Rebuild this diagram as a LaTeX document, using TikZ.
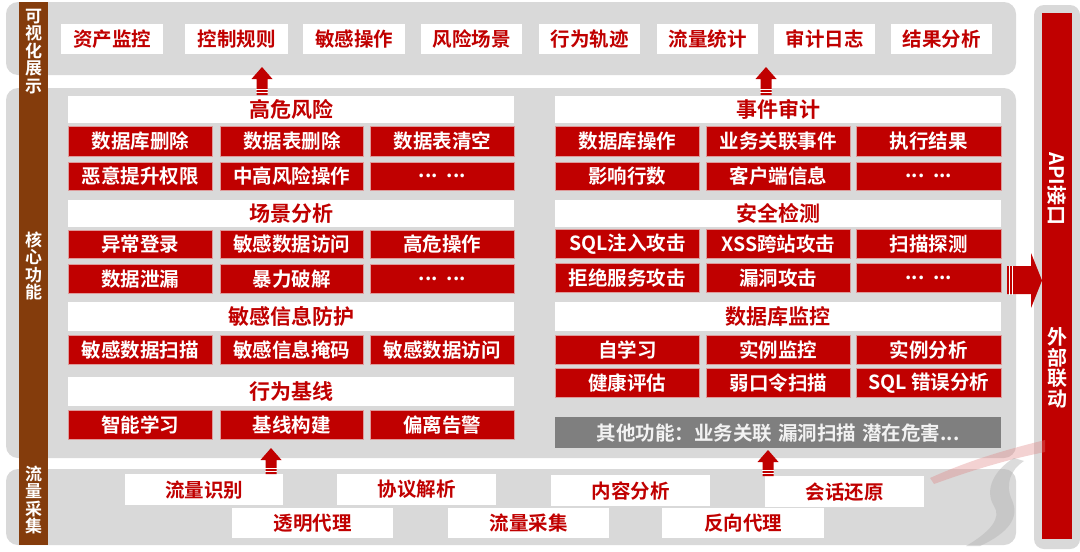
\documentclass[tikz,border=0pt]{standalone}
\usepackage{fontspec}
\setmainfont{Noto Sans CJK SC}[BoldFont={Noto Sans CJK SC Bold}]
\definecolor{myred}{HTML}{C00000}
\definecolor{panelgray}{HTML}{D9D9D9}
\definecolor{mybrown}{HTML}{843C0C}
\definecolor{rbord}{HTML}{DE9A9A}
\definecolor{boxgray}{HTML}{7F7F7F}
\newcommand\mkbox[7]{\node[#2, minimum width=#5pt, minimum height=#6pt, anchor=north west] (#1) at (#3,#4) {#7};}
\newcommand\blockup[3]{%
  \fill[myred] (#1-5.5,#3) -- (#1-5.5,#2+12) -- (#1-10.5,#2+12) -- (#1,#2) -- (#1+10.5,#2+12) -- (#1+5.5,#2+12) -- (#1+5.5,#3) -- cycle;
  \draw[white,line width=0.8pt] (#1-6,#3-2.5) -- (#1+6,#3-2.5) (#1-6,#3-5.5) -- (#1+6,#3-5.5);
}
\tikzset{
  panel/.style={fill=panelgray, draw=none, rounded corners=12pt},
  wbox/.style={fill=white, draw=none, inner sep=0pt, text=myred, font=\bfseries\fontsize{19.5}{20}\selectfont},
  hbox/.style={fill=white, draw=none, inner sep=0pt, text=myred, font=\bfseries\fontsize{21}{22}\selectfont},
  rbox/.style={fill=myred, draw=rbord, line width=0.6pt, inner sep=0pt, text=white, font=\bfseries\fontsize{19.5}{20}\selectfont},
  gbox/.style={fill=boxgray, draw=none, inner sep=0pt, text=white!95!black, font=\bfseries\fontsize{19.5}{20}\selectfont},
  sidelabel/.style={text=white, inner sep=0pt, align=center, font=\bfseries\fontsize{17}{17.6}\selectfont},
  barlabel/.style={text=white, inner sep=0pt, align=center, font=\bfseries\fontsize{20}{21}\selectfont}
}
\begin{document}
\begin{tikzpicture}[x=1pt,y=-1pt]
\useasboundingbox[fill=white] (0,0) rectangle (1080,552);
% panels
\fill[panel] (6,2) rectangle (1016,75);
\fill[panel] (6,88) rectangle (1016,458);
\fill[panel] (6,469) rectangle (1016,545);
\fill[panel, rounded corners=10pt] (1034,5) rectangle (1080,549);
\fill[myred] (1042,13) rectangle (1072,539);
% brown side bar
\fill[mybrown] (19,2) rectangle (48,545);
\node[sidelabel] (sl1) at (33.5,51.5) {可\\视\\化\\展\\示};
\node[sidelabel] (sl2) at (33.5,266) {核\\心\\功\\能};
\node[sidelabel] (sl3) at (33.5,500) {流\\量\\采\\集};
% watermark
\fill[myred!50, opacity=0.35] (930,478) .. controls (970,460) and (1005,450) .. (1045,440) -- (1045,452) .. controls (1005,460) and (970,471) .. (934,484) -- cycle;
\fill[black!30, opacity=0.45] (1014,458) .. controls (994,470) and (984,490) .. (994,506) .. controls (1002,518) and (990,532) .. (966,546) -- (980,546) .. controls (1008,533) and (1020,518) .. (1012,500) .. controls (1005,485) and (1010,470) .. (1024,461) -- cycle;
% top row
\mkbox{t1}{wbox}{61}{24}{102}{30}{资产监控}
\mkbox{t2}{wbox}{185}{24}{103}{30}{控制规则}
\mkbox{t3}{wbox}{303}{24}{102}{30}{敏感操作}
\mkbox{t4}{wbox}{421}{24}{101}{30}{风险场景}
\mkbox{t5}{wbox}{539}{24}{101}{30}{行为轨迹}
\mkbox{t6}{wbox}{657}{24}{101}{30}{流量统计}
\mkbox{t7}{wbox}{774}{24}{101}{30}{审计日志}
\mkbox{t8}{wbox}{891}{24}{101}{30}{结果分析}
% left column
\mkbox{lh1}{hbox}{68}{96}{446}{27}{高危风险}
\mkbox{l11}{rbox}{68}{126}{144}{30}{数据库删除}
\mkbox{l12}{rbox}{220}{126}{143}{30}{数据表删除}
\mkbox{l13}{rbox}{370}{126}{144}{30}{数据表清空}
\mkbox{l14}{rbox}{68}{162}{144}{28}{恶意提升权限}
\mkbox{l15}{rbox}{220}{162}{143}{28}{中高风险操作}
\mkbox{l16}{rbox}{370}{162}{144}{28}{...\ \ ...}
\mkbox{lh2}{hbox}{68}{200}{446}{27}{场景分析}
\mkbox{l21}{rbox}{68}{230}{144}{28}{异常登录}
\mkbox{l22}{rbox}{220}{230}{143}{28}{敏感数据访问}
\mkbox{l23}{rbox}{370}{230}{144}{28}{高危操作}
\mkbox{l24}{rbox}{68}{264}{144}{29}{数据泄漏}
\mkbox{l25}{rbox}{220}{264}{143}{29}{暴力破解}
\mkbox{l26}{rbox}{370}{264}{144}{29}{...\ \ ...}
\mkbox{lh3}{hbox}{68}{302}{446}{29}{敏感信息防护}
\mkbox{l31}{rbox}{68}{335}{144}{29}{敏感数据扫描}
\mkbox{l32}{rbox}{220}{335}{143}{29}{敏感信息掩码}
\mkbox{l33}{rbox}{370}{335}{144}{29}{敏感数据访问}
\mkbox{lh4}{hbox}{68}{377}{446}{29}{行为基线}
\mkbox{l41}{rbox}{68}{410}{144}{29}{智能学习}
\mkbox{l42}{rbox}{220}{410}{143}{29}{基线构建}
\mkbox{l43}{rbox}{370}{410}{144}{29}{偏离告警}
% right column
\mkbox{rh1}{hbox}{555}{96}{446}{27}{事件审计}
\mkbox{r11}{rbox}{555}{126}{144}{30}{数据库操作}
\mkbox{r12}{rbox}{706}{126}{144}{30}{业务关联事件}
\mkbox{r13}{rbox}{856}{126}{145}{30}{执行结果}
\mkbox{r14}{rbox}{555}{162}{144}{28}{影响行数}
\mkbox{r15}{rbox}{706}{162}{144}{28}{客户端信息}
\mkbox{r16}{rbox}{856}{162}{145}{28}{...\ \ ...}
\mkbox{rh2}{hbox}{555}{200}{446}{27}{安全检测}
\mkbox{r21}{rbox}{555}{229}{144}{29}{SQL注入攻击}
\mkbox{r22}{rbox}{706}{229}{144}{29}{XSS跨站攻击}
\mkbox{r23}{rbox}{856}{229}{145}{29}{扫描探测}
\mkbox{r24}{rbox}{555}{263}{144}{29}{拒绝服务攻击}
\mkbox{r25}{rbox}{706}{263}{144}{29}{漏洞攻击}
\mkbox{r26}{rbox}{856}{263}{145}{29}{...\ \ ...}
\mkbox{rh3}{hbox}{555}{302}{446}{29}{数据库监控}
\mkbox{r31}{rbox}{555}{335}{144}{29}{自学习}
\mkbox{r32}{rbox}{706}{335}{144}{29}{实例监控}
\mkbox{r33}{rbox}{856}{335}{145}{29}{实例分析}
\mkbox{r34}{rbox}{555}{368}{144}{29}{健康评估}
\mkbox{r35}{rbox}{706}{368}{144}{29}{弱口令扫描}
\mkbox{r36}{rbox}{856}{368}{145}{29}{SQL 错误分析}
\mkbox{rg}{gbox}{555}{417}{446}{31}{其他功能：业务关联\hspace{6pt}漏洞扫描\hspace{6pt}潜在危害...}
% bottom rows
\mkbox{b1}{wbox}{125}{474}{158}{31}{流量识别}
\mkbox{b2}{wbox}{337}{474}{159}{31}{协议解析}
\mkbox{b3}{wbox}{551}{475}{159}{31}{内容分析}
\mkbox{b4}{wbox}{765}{476}{159}{31}{会话还原}
\mkbox{b5}{wbox}{232}{508}{161}{30}{透明代理}
\mkbox{b6}{wbox}{448}{508}{161}{30}{流量采集}
\mkbox{b7}{wbox}{662}{508}{162}{30}{反向代理}
% block arrows
\blockup{262}{67}{95}
\blockup{766}{67}{95}
\blockup{271}{448}{474}
\blockup{768}{450}{476}
\fill[myred] (1007,266) -- (1031,266) -- (1031,253) -- (1042,280.5) -- (1031,308) -- (1031,294) -- (1007,294) -- cycle;
\draw[white,line width=0.8pt] (1009.5,265.5) -- (1009.5,294.5) (1012.5,265.5) -- (1012.5,294.5);
% right bar labels
\node[barlabel, rotate=-90] (api) at (1057,189) {API接口};
\node[barlabel, font=\bfseries\fontsize{20}{20.5}\selectfont] (ext) at (1057,368) {外\\部\\联\\动};
\end{tikzpicture}
\end{document}
